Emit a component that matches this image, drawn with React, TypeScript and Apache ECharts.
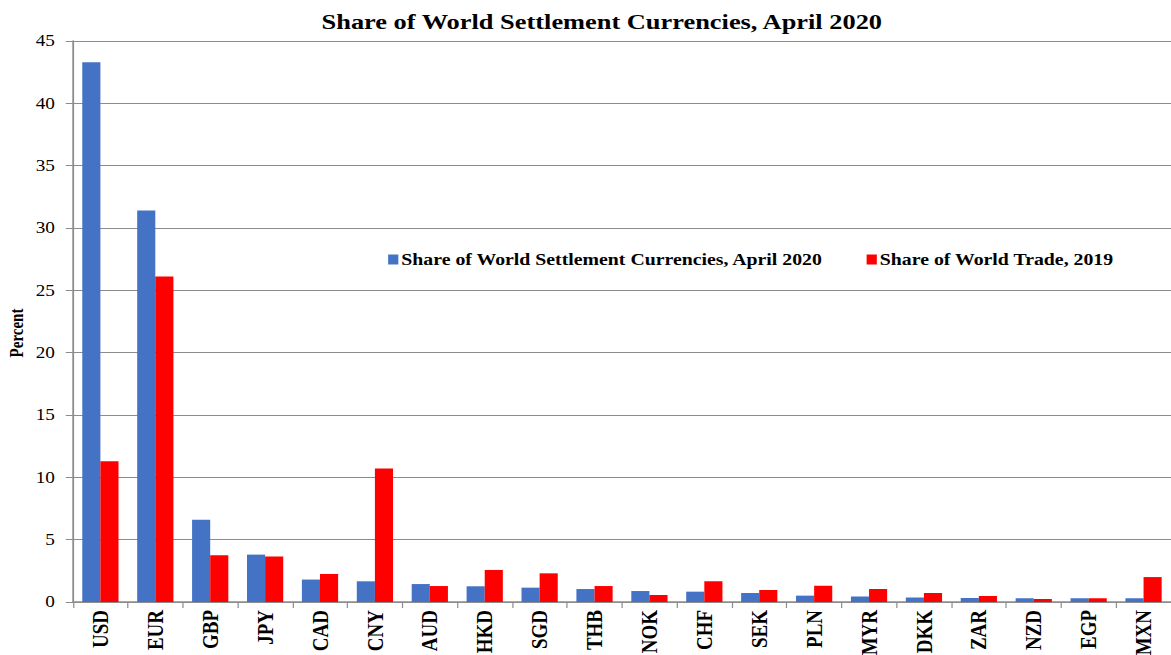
import React, { useEffect, useRef } from "react";
import * as echarts from "echarts";

const categories = ["USD","EUR","GBP","JPY","CAD","CNY","AUD","HKD","SGD","THB","NOK","CHF","SEK","PLN","MYR","DKK","ZAR","NZD","EGP","MXN"];
const settlementShare = [43.3,31.4,6.6,3.8,1.8,1.66,1.44,1.26,1.15,1.04,0.88,0.83,0.72,0.51,0.45,0.37,0.32,0.3,0.3,0.3];
const tradeShare = [11.3,26.1,3.75,3.65,2.25,10.7,1.28,2.57,2.3,1.28,0.56,1.66,0.96,1.31,1.04,0.72,0.48,0.24,0.3,2.0];
const yTicks = { min: 0, max: 45, interval: 5 };

const SERIF = "'Liberation Serif', 'Times New Roman', serif";
// the reference is drawn with horizontally widened type; reproduce by a horizontal stretch
const OUT_W = 1171;
const OUT_H = 655;
const STRETCH = 1.2;
const W = Math.round(OUT_W / STRETCH);

export default function App() {
  const ref = useRef<HTMLDivElement>(null);
  useEffect(() => {
    if (!ref.current) return;
    const chart = echarts.init(ref.current, null, { renderer: "svg" });
    chart.setOption({
      animation: false,
      title: {
        text: "Share of World Settlement Currencies, April 2020",
        left: 263,
        top: 5,
        textStyle: { fontFamily: SERIF, fontWeight: "bold", fontSize: 22, color: "#000" },
      },
      legend: {
        left: 318.5,
        top: 246,
        itemWidth: 8.5,
        itemHeight: 10,
        itemGap: 36,
        icon: "rect",
        textStyle: { fontFamily: SERIF, fontWeight: "bold", fontSize: 16.5, color: "#000", padding: [0, 0, 0, -2.5] },
      },
      graphic: [
        {
          type: "text",
          x: 14.6,
          y: 333,
          rotation: Math.PI / 2,
          style: {
            text: "Percent",
            fontFamily: SERIF,
            fontWeight: "bold",
            fontSize: 15,
            fill: "#000",
            align: "center",
            verticalAlign: "middle",
          },
        },
      ],
      grid: { left: 60.8, right: 0, top: 41, bottom: 53, outerBoundsMode: "none", containLabel: false },
      xAxis: {
        type: "category",
        data: categories,
        axisLine: { lineStyle: { color: "#8c8c8c", width: 1.5 } },
        axisTick: { show: true, length: 6, lineStyle: { color: "#8c8c8c" } },
        axisLabel: {
          rotate: 90,
          interval: 0,
          margin: 8,
          fontFamily: SERIF,
          fontWeight: "bold",
          fontSize: 19,
          color: "#000",
        },
      },
      yAxis: {
        type: "value",
        min: yTicks.min,
        max: yTicks.max,
        interval: yTicks.interval,
        axisLine: { show: true, lineStyle: { color: "#8c8c8c", width: 1.5 } },
        axisTick: { show: true, length: 6, lineStyle: { color: "#8c8c8c" } },
        splitLine: { show: true, lineStyle: { color: "#8c8c8c", width: 1 } },
        axisLabel: {
          margin: 15,
          fontFamily: SERIF,
          fontSize: 16,
          color: "#000",
        },
      },
      series: [
        {
          name: "Share of World Settlement Currencies, April 2020",
          type: "bar",
          data: settlementShare,
          barGap: "0%",
          barCategoryGap: "34%",
          itemStyle: { color: "#4472C4" },
        },
        {
          name: "Share of World Trade, 2019",
          type: "bar",
          data: tradeShare,
          itemStyle: { color: "#FF0000" },
        },
      ],
    });
    return () => chart.dispose();
  }, []);
  return (
    <div
      style={{ position: "fixed", left: 0, top: 0, width: OUT_W, height: OUT_H, overflow: "hidden", background: "#fff" }}
    >
      <div
        ref={ref}
        style={{
          width: W,
          height: OUT_H,
          transform: `scaleX(${OUT_W / W})`,
          transformOrigin: "0 0",
        }}
      />
    </div>
  );
}
